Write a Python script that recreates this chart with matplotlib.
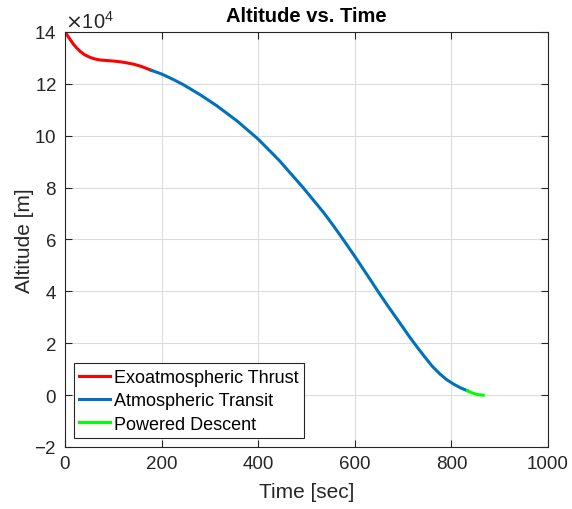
import numpy as np
import matplotlib
matplotlib.use("Agg")
import matplotlib.pyplot as plt
from matplotlib.ticker import ScalarFormatter

plt.rcParams['font.family'] = ['Liberation Sans', 'DejaVu Sans']
plt.rcParams['axes.unicode_minus'] = False

# time [sec] and altitude [m]
t_exo = [0, 5, 10, 17, 24, 31, 40, 52, 62, 73, 86, 100, 115, 128, 142, 155, 167, 179]
h_exo = [140000, 138700, 137300, 135400, 133900, 132600, 131300, 130200, 129600,
         129200, 129000, 128800, 128500, 128100, 127600, 126900, 126100, 125200]

t_atm = [179, 200, 222, 245, 280, 314, 357, 400, 444, 493, 535, 555, 576, 600,
         624, 648, 668, 687, 714, 730, 745, 760, 776, 790, 805, 819, 833]
h_atm = [125200, 123800, 121900, 119700, 115800, 111600, 105600, 98700, 90400,
         80000, 70500, 65500, 60000, 53500, 46800, 40000, 34500, 29500, 22300,
         18300, 14700, 11200, 8200, 6000, 4200, 2800, 1700]

t_pd = [833, 840, 847, 854, 860, 866]
h_pd = [1700, 1100, 600, 250, 80, 0]

blue = '#0072BD'
axc = '#262626'

fig = plt.figure(figsize=(5.72, 5.10), dpi=100)
ax = fig.add_axes([0.1136, 0.1216, 0.8444, 0.8137])

ax.plot(t_exo, h_exo, color='#FF0000', lw=2.2, label='Exoatmospheric Thrust')
ax.plot(t_atm, h_atm, color=blue, lw=2.2, label='Atmospheric Transit')
ax.plot(t_pd, h_pd, color='#00FF00', lw=2.2, label='Powered Descent')

ax.set_xlim(0, 1000)
ax.set_ylim(-20000, 140000)
ax.set_xticks(np.arange(0, 1001, 200))
ax.set_yticks(np.arange(-20000, 140001, 20000))

fmt = ScalarFormatter(useMathText=True)
fmt.set_powerlimits((4, 4))
ax.yaxis.set_major_formatter(fmt)

ax.grid(True, color='#dcdcdc', lw=0.8)
ax.set_axisbelow(True)
ax.tick_params(direction='in', top=True, right=True, labelsize=13.5,
               colors=axc, length=5, width=0.8, pad=6)
for s in ax.spines.values():
    s.set_color(axc)
    s.set_linewidth(0.8)
ax.yaxis.get_offset_text().set_fontsize(14.5)
ax.yaxis.get_offset_text().set_color(axc)

ax.set_title('Altitude vs. Time', fontsize=14.5, fontweight='bold', color='black', pad=8)
ax.set_xlabel('Time [sec]', fontsize=15, color=axc, labelpad=7)
ax.set_ylabel('Altitude [m]', fontsize=15, color=axc, labelpad=0)

leg = ax.legend(loc='lower left', fontsize=13, fancybox=False, framealpha=1,
                edgecolor=axc, handlelength=1.7, handletextpad=0.2,
                labelspacing=0.35, borderpad=0.3, borderaxespad=0.5)
leg.get_frame().set_linewidth(0.8)

fig.savefig('out.png', dpi=100)
